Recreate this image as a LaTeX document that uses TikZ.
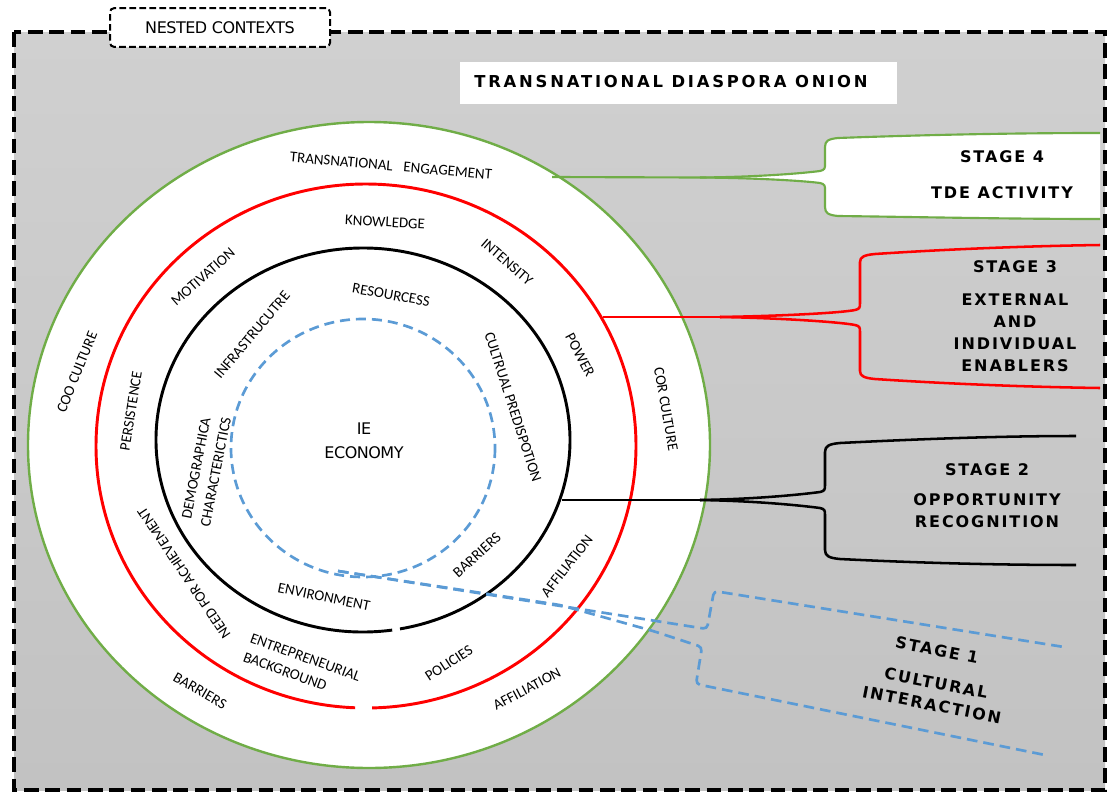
\documentclass[tikz,border=0pt]{standalone}
\usepackage{fontspec}
\setmainfont{Carlito}
\newfontfamily\stagefont{DejaVu Sans}[LetterSpace=12]
\newfontfamily\titlefont{DejaVu Sans}[LetterSpace=17]
\newfontfamily\tightfont{DejaVu Sans}[LetterSpace=-3]
\usetikzlibrary{calc}

\definecolor{ringgreen}{HTML}{70AD47}
\definecolor{ringred}{HTML}{FF0000}
\definecolor{ringblue}{HTML}{5B9BD5}
\definecolor{ctxtop}{HTML}{D0D0D0}
\definecolor{ctxbottom}{HTML}{C2C2C2}

\begin{document}
\begin{tikzpicture}[x=0.75pt,y=-0.75pt,
  lbl/.style={font=\fontsize{11.2}{13}\selectfont, inner sep=0pt},
  lbltwo/.style={lbl, font=\fontsize{11.2}{15}\selectfont},
  stagehead/.style={font=\stagefont\bfseries\fontsize{12}{16.5}\selectfont, inner sep=0pt, align=center},
  stagebody/.style={stagehead},
  ringline/.style={line width=2.2pt},
  linkfour/.style={ringgreen, line width=1.6pt, line join=round},
  linkthree/.style={ringred, line width=1.9pt, line join=round},
  linktwo/.style={black, line width=1.9pt, line join=round},
  linkone/.style={ringblue, line width=2pt, dash pattern=on 8pt off 4.5pt, rounded corners=3pt},
]
\useasboundingbox (0,0) rectangle (1110,793);

% nested context frame
\fill[top color=ctxtop, bottom color=ctxbottom] (14,32) rectangle (1105,790);
\draw[black, line width=3pt, dash pattern=on 11pt off 5pt] (14,32) rectangle (1105,790);
\node[draw=black, fill=white, line width=1.5pt, dash pattern=on 5pt off 2.5pt,
      rounded corners=3pt, minimum width=165pt, minimum height=29pt, inner sep=0pt,
      font=\tightfont\fontsize{12}{14}\selectfont] (ctx) at (220,27.5) {NESTED CONTEXTS};

% title
\node[fill=white, minimum width=327.75pt, minimum height=31.5pt, inner sep=0pt] (titlebox) at (678.5,83) {};
\node[font=\titlefont\bfseries\fontsize{12.3}{15}\selectfont, inner sep=0pt] (title) at (671,82) {TRANSNATIONAL DIASPORA ONION};

% the onion rings
\coordinate (cg) at (369,445);
\coordinate (cr) at (366,446);
\coordinate (ck) at (363,440);
\coordinate (cb) at (363,448);
\fill[white] (cg) ellipse [x radius=341, y radius=323];
\draw[ringgreen, line width=1.8pt] (cg) ellipse [x radius=341, y radius=323];
\draw[ringred, ringline] (cr) ++(92.3:270 and 262)
  arc[start angle=92.3, end angle=448.7, x radius=270, y radius=262];
\draw[black, ringline] (ck) ++(81.9:207 and 192)
  arc[start angle=81.9, end angle=439.7, x radius=207, y radius=192];
\draw[ringblue, line width=2pt, dash pattern=on 7.5pt off 4.5pt] (cb) ellipse [x radius=132, y radius=129];

% ring labels
\node[font=\tightfont\fontsize{12}{18}\selectfont, align=center, inner sep=0pt] (core) at (364,441) {IE\\ECONOMY};
\node[lbl, rotate=-5] (teng) at (391,166) {TRANSNATIONAL\hspace{0.5em} ENGAGEMENT};
\node[lbl, rotate=-3] (know) at (385,222) {KNOWLEDGE};
\node[lbl, rotate=-41] (inten) at (507,262) {INTENSITY};
\node[lbl, rotate=-62] (power) at (580,355) {POWER};
\node[lbl, rotate=-80] (cor) at (666,409) {COR CULTURE};
\node[lbl, rotate=-72] (cpred) at (513,407) {CULTRUAL PREDISPOTION};
\node[lbl, rotate=-10] (res) at (391,295) {RESOURCESS};
\node[lbl, rotate=50] (infra) at (252,335) {INFRASTRUCUTRE};
\node[lbl, rotate=41] (motiv) at (203,277) {MOTIVATION};
\node[lbl, rotate=68] (coo) at (77,372) {COO CULTURE};
\node[lbl, rotate=81] (pers) at (131,411) {PERSISTENCE};
\node[lbltwo, rotate=79, align=center] (demo) at (206,470) {DEMOGRAPHICA\\CHARACTERICTICS};
\node[lbl, rotate=124] (need) at (184,573) {NEED FOR ACHIEVEMENT};
\node[lbl, rotate=-11.5] (env) at (324,597) {ENVIRONMENT};
\node[lbl, rotate=42] (barin) at (477,555) {BARRIERS};
\node[lbl, rotate=52] (affin) at (567,566) {AFFILIATION};
\node[lbltwo, rotate=-20, align=left] (entre) at (302,667) {ENTREPRENEURIAL\\BACKGROUND};
\node[lbl, rotate=33] (pol) at (449,663) {POLICIES};
\node[lbl, rotate=-30] (barout) at (200,691) {BARRIERS};
\node[lbl, rotate=28] (affout) at (527,689) {AFFILIATION};

% where each stage leaves its ring
\coordinate (g0) at (552,177);
\coordinate (r0) at (603,317);
\coordinate (k0) at (562,500);
\coordinate (b0) at (338,571);

% stage 4 bracket (white box)
\coordinate (g1) at (700,177.5);
\fill[white] (g1) .. controls (760,177) and (805,173) .. (820,171)
  .. controls (825,170) and (825,168) .. (825,164) -- (825,147)
  .. controls (825,141) and (828,139) .. (838,138)
  .. controls (920,135) and (1010,133) .. (1100,133) -- (1100,219)
  .. controls (1010,219) and (920,217) .. (838,216)
  .. controls (828,215) and (825,213) .. (825,207) -- (825,190)
  .. controls (825,186) and (825,184) .. (820,183)
  .. controls (805,181) and (760,178) .. (g1) -- cycle;
\draw[linkfour] (g0) -- (g1);
\draw[linkfour] (g1) .. controls (760,177) and (805,173) .. (820,171)
  .. controls (825,170) and (825,168) .. (825,164) -- (825,147)
  .. controls (825,141) and (828,139) .. (838,138)
  .. controls (920,135) and (1010,133) .. (1100,133);
\draw[linkfour] (g1) .. controls (760,178) and (805,181) .. (820,183)
  .. controls (825,184) and (825,186) .. (825,190) -- (825,207)
  .. controls (825,213) and (828,215) .. (838,216)
  .. controls (920,217) and (1010,219) .. (1100,219);
\node[stagehead] (s4h) at (1002,157) {STAGE 4};
\node[stagebody] (s4b) at (1002,193) {TDE ACTIVITY};

% stage 3 bracket
\coordinate (r1) at (720,317);
\draw[linkthree] (r0) -- (r1);
\draw[linkthree] (r1) .. controls (780,316) and (840,313) .. (855,310)
  .. controls (860,309) and (860,307) .. (860,303) -- (860,262)
  .. controls (860,257) and (864,255) .. (875,254)
  .. controls (950,249) and (1030,246) .. (1100,245);
\draw[linkthree] (r1) .. controls (780,318) and (840,322) .. (855,325)
  .. controls (860,326) and (860,328) .. (860,332) -- (860,371)
  .. controls (860,376) and (864,378) .. (875,379)
  .. controls (950,384) and (1030,387) .. (1100,388);
\node[stagehead] (s3h) at (1015,267) {STAGE 3};
\node[stagebody] (s3b) at (1015,333) {EXTERNAL\\AND\\INDIVIDUAL\\ENABLERS};

% stage 2 bracket
\coordinate (k1) at (700,500);
\draw[linktwo] (k0) -- (k1);
\draw[linktwo] (k1) .. controls (760,499) and (805,494) .. (820,492)
  .. controls (825,491) and (825,489) .. (825,485) -- (825,452)
  .. controls (825,446) and (829,444) .. (840,443)
  .. controls (920,439) and (1000,436) .. (1076,436);
\draw[linktwo] (k1) .. controls (760,501) and (805,506) .. (820,508)
  .. controls (825,509) and (825,511) .. (825,515) -- (825,550)
  .. controls (825,556) and (829,558) .. (840,559)
  .. controls (920,563) and (1000,565) .. (1076,565);
\node[stagehead] (s2h) at (987,470) {STAGE 2};
\node[stagebody] (s2b) at (987,511) {OPPORTUNITY\\RECOGNITION};

% stage 1 bracket (dashed, tilted)
\draw[linkone] (b0) -- (707,629) -- (714,591) -- (1064,647);
\draw[linkone] (b0) -- (560,605) -- (653,631) -- (702,647) -- (696,684) -- (1045,755);
\node[stagehead, rotate=-11] (s1h) at (937,650) {STAGE 1};
\node[stagebody, rotate=-11] (s1b) at (934,694) {CULTURAL\\INTERACTION};
\end{tikzpicture}
\end{document}
